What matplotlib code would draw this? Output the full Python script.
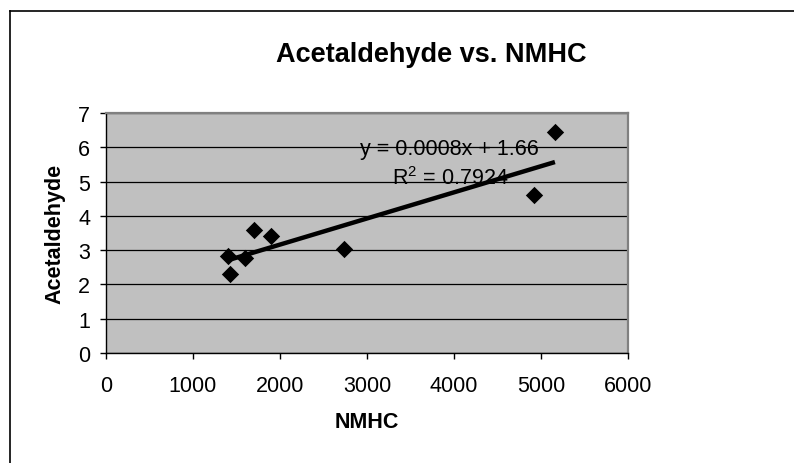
import numpy as np
import matplotlib
matplotlib.use('Agg')
import matplotlib.pyplot as plt
from matplotlib.lines import Line2D

plt.rcParams['font.family'] = ['Liberation Sans', 'DejaVu Sans']
plt.rcParams['mathtext.fontset'] = 'custom'
plt.rcParams['mathtext.rm'] = 'Liberation Sans'
plt.rcParams['mathtext.it'] = 'Liberation Sans'

# Datos
nmhc = [1403, 1427, 1593, 1704, 1902, 2731, 4914, 5160]
acetaldehyde = [2.83, 2.29, 2.78, 3.59, 3.41, 3.02, 4.61, 6.45]
x_ticks = [0, 1000, 2000, 3000, 4000, 5000, 6000]
y_ticks = [0, 1, 2, 3, 4, 5, 6, 7]
eq_label = 'y = 0.0008x + 1.66'
r2_label = r'R$\mathregular{^2}$ = 0.7924'

fig = plt.figure(figsize=(7.94, 4.64), dpi=100)
ax = fig.add_axes([106/794, 1 - 354/464, 522/794, 240/464])
ax.set_facecolor('#C0C0C0')

# Linea de tendencia (minimos cuadrados)
m, b = np.polyfit(nmhc, acetaldehyde, 1)
xs = np.array([min(nmhc), max(nmhc)])
ax.plot(xs, m * xs + b, color='black', lw=3.2, zorder=3, solid_capstyle='butt')

ax.scatter(nmhc, acetaldehyde, marker='D', s=78, color='black', zorder=4, linewidths=0)

ax.set_xlim(0, 6000)
ax.set_ylim(0, 7)
ax.set_xticks(x_ticks)
ax.set_yticks(y_ticks)
ax.yaxis.grid(True, color='black', lw=0.9)
ax.set_axisbelow(True)
ax.tick_params(axis='both', labelsize=15.5, length=4.5, width=1, direction='out')
ax.tick_params(axis='y', pad=7)
ax.tick_params(axis='x', pad=11)

for s in ['left', 'bottom']:
    ax.spines[s].set_color('black')
    ax.spines[s].set_linewidth(1)
for s in ['top', 'right']:
    ax.spines[s].set_color('#808080')
    ax.spines[s].set_linewidth(1.6)

ax.text(3943, 5.80, eq_label, ha='center', va='baseline', fontsize=15.5, zorder=2)
ax.text(3955, 4.93, r2_label, ha='center', va='baseline', fontsize=15.5, zorder=2)

fig.text(431/794, 1 - 62/464, 'Acetaldehyde vs. NMHC', ha='center', va='baseline',
         fontsize=19.5, fontweight='bold')
fig.text(367/794, 1 - 423/464, 'NMHC', ha='center', va='center',
         fontsize=15.5, fontweight='bold')
fig.text(55/794, 1 - 234/464, 'Acetaldehyde', ha='center', va='center',
         rotation=90, fontsize=15.5, fontweight='bold')

# Borde exterior del grafico
fig.add_artist(Line2D([10/794, 1.0], [1 - 12/464, 1 - 12/464], color='black', lw=1.2))
fig.add_artist(Line2D([10/794, 10/794], [0.0, 1 - 12/464], color='black', lw=1.2))

fig.savefig('out.png', dpi=100)
